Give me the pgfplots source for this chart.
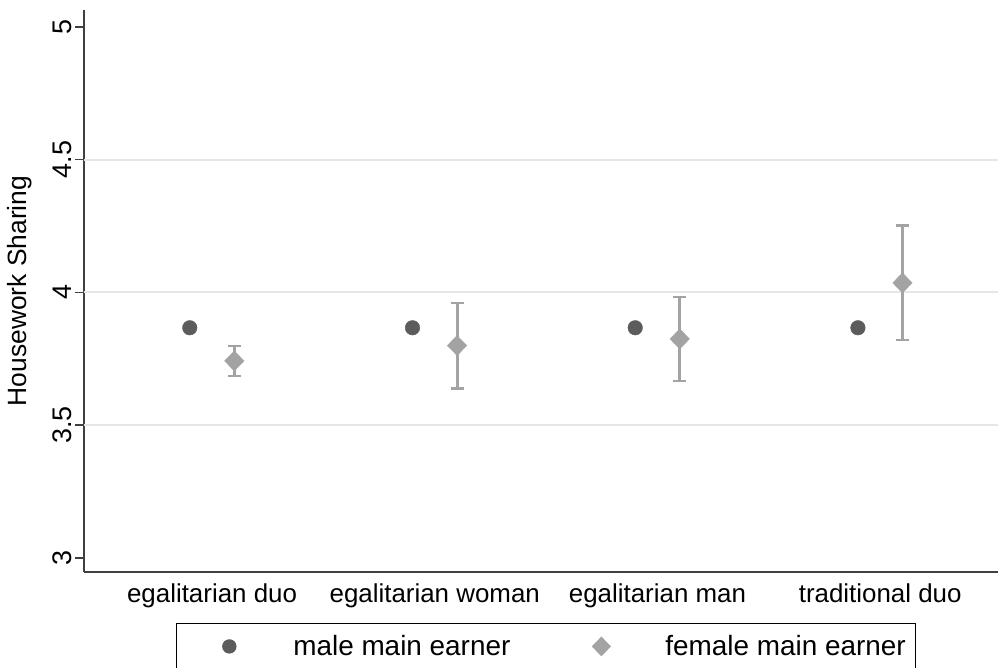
\documentclass[border=0pt]{standalone}
\usepackage{fontspec}
\setmainfont{Liberation Sans}
\usepackage{pgfplots}
\usepackage{pgfplotstable}
\pgfplotsset{compat=1.18}
\definecolor{maleC}{HTML}{5C5C5C}
\definecolor{femC}{HTML}{A3A3A3}
\definecolor{gridC}{HTML}{E6E6E6}
\definecolor{axC}{HTML}{404040}
\pgfplotstableread{
x y
-0.1 3.867
0.9 3.867
1.9 3.867
2.9 3.867
}\maledata
\pgfplotstableread{
x y ep em
0.1 3.742 0.056 0.056
1.1 3.800 0.160 0.162
2.1 3.825 0.158 0.158
3.1 4.036 0.216 0.215
}\femdata
\begin{document}
\begin{tikzpicture}
\path[use as bounding box] (-84bp,-96bp) rectangle (914bp,572bp);
\begin{axis}[
  at={(0,0)}, anchor=south west,
  scale only axis, width=914bp, height=562bp,
  xmin=-0.575, xmax=3.529,
  ymin=2.947, ymax=5.064,
  axis x line*=bottom, axis y line*=left,
  axis line style={axC, line width=1.5bp},
  tick align=outside, major tick length=9bp,
  ytick style={axC, line width=1.5bp},
  xtick style={draw=none},
  xtick={0,1,2,3},
  xticklabels={egalitarian duo, egalitarian woman, egalitarian man, traditional duo},
  x tick label style={font=\fontsize{26}{30}\selectfont, anchor=north, yshift=1bp},
  ytick={3,3.5,4,4.5,5},
  yticklabels={3,3.5,4,4.5,5},
  y tick label style={font=\fontsize{27}{30}\selectfont, rotate=90, anchor=south, xshift=0bp},
  extra y ticks={3.5,4,4.5},
  extra y tick labels={},
  extra y tick style={grid=major, ytick style={draw=none}},
  grid style={gridC, line width=2bp},
  ylabel={Housework Sharing},
  ylabel style={font=\fontsize{26.5}{30}\selectfont, at={(axis description cs:-0.0536,0.5)}, anchor=south},
  legend style={at={(axis description cs:0.5055,-0.0907)}, anchor=north,
    draw=black, line width=1.2bp, font=\fontsize{28}{32}\selectfont,
    inner xsep=8bp, inner ysep=10bp,
    /tikz/every even column/.append style={column sep=44bp}},
  legend columns=2,
  legend cell align=left,
  legend image code/.code={
    \path[draw=none] (-45bp,0bp) -- (62bp,0bp);
    \draw[#1,only marks,/tikz/every mark/.append style={scale=0.9}] plot coordinates {(0bp,0bp)};
  },
  clip=false,
]
\addplot[only marks, mark=*, mark size=7.3bp, color=maleC] table[x=x,y=y] {\maledata};
\addlegendentry{male main earner}
\addplot[only marks, mark=diamond*, mark size=10bp, mark options={xscale=1.3}, color=femC,
  error bars/.cd, y dir=both, y explicit, error mark=|,
  error bar style={femC, line width=3bp},
  error mark options={femC, mark size=6.5bp, line width=2.5bp}]
  table[x=x,y=y,y error plus=ep,y error minus=em] {\femdata};
\addlegendentry{female main earner}
\end{axis}
\end{tikzpicture}
\end{document}
